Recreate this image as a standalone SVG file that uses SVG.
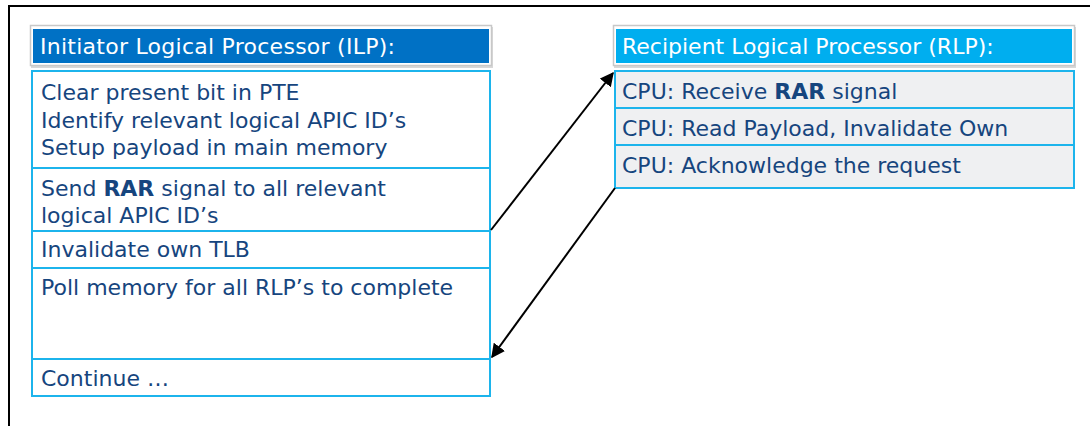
<svg xmlns="http://www.w3.org/2000/svg" width="1090" height="426" viewBox="0 0 1090 426">
<style>
.t{font-family:"DejaVu Sans","Verdana",sans-serif;font-size:22px;fill:#16457E}
.h{font-family:"DejaVu Sans","Verdana",sans-serif;font-size:22px;fill:#ffffff}
.b{font-weight:bold}
.frame{fill:#ffffff;stroke:#C8C8C8;stroke-width:1.5}
.row{fill:#ffffff;stroke:#1CB4EC;stroke-width:2}
.rrow{fill:#EFF0F2;stroke:#1CB4EC;stroke-width:2}
.conn{stroke:#000;stroke-width:2;fill:none;marker-end:url(#ah)}
</style>
<defs>
<marker id="ah" viewBox="0 0 10 10" refX="9" refY="5" markerWidth="7" markerHeight="7" orient="auto-start-reverse" markerUnits="strokeWidth">
<path d="M0,0 L10,5 L0,10 z" fill="#000"/>
</marker>
</defs>
<rect width="1090" height="426" fill="#ffffff"/>
<path d="M9,426 V6 H1090" fill="none" stroke="#000" stroke-width="2"/>

<g id="ilp-header">
<rect x="31" y="27" width="462" height="41" fill="#D8D8D8"/>
<rect class="frame" x="30.5" y="25.5" width="461" height="40"/>
<rect x="33" y="29" width="456" height="34" fill="#0071C5"/>
<text class="h" x="40" y="54" textLength="355" lengthAdjust="spacing">Initiator Logical Processor (ILP):</text>
</g>
<g id="ilp-step1">
<rect class="row" x="32" y="71" width="458" height="97"/>
<text class="t" x="41" y="100">Clear present bit in PTE</text>
<text class="t" x="41" y="128">Identify relevant logical APIC ID’s</text>
<text class="t" x="41" y="155">Setup payload in main memory</text>
</g>
<g id="ilp-step2">
<rect class="row" x="32" y="168" width="458" height="63"/>
<text class="t" x="41" y="196">Send <tspan class="b">RAR</tspan> signal to all relevant</text>
<text class="t" x="41" y="223">logical APIC ID’s</text>
</g>
<g id="ilp-step3">
<rect class="row" x="32" y="231" width="458" height="37"/>
<text class="t" x="41" y="257">Invalidate own TLB</text>
</g>
<g id="ilp-step4">
<rect class="row" x="32" y="268" width="458" height="91"/>
<text class="t" x="41" y="295">Poll memory for all RLP’s to complete</text>
</g>
<g id="ilp-step5">
<rect class="row" x="32" y="359" width="458" height="37"/>
<text class="t" x="41" y="386">Continue …</text>
</g>

<g id="rlp-header">
<rect x="614" y="27" width="462" height="41" fill="#D8D8D8"/>
<rect class="frame" x="613.5" y="25.5" width="461" height="40"/>
<rect x="616" y="29" width="456" height="34" fill="#00AEEF"/>
<text class="h" x="622" y="54">Recipient Logical Processor (RLP):</text>
</g>
<g id="rlp-step1">
<rect class="rrow" x="615" y="71" width="459" height="37"/>
<text class="t" x="622" y="99">CPU: Receive <tspan class="b">RAR</tspan> signal</text>
</g>
<g id="rlp-step2">
<rect class="rrow" x="615" y="108" width="459" height="37"/>
<text class="t" x="622" y="136">CPU: Read Payload, Invalidate Own</text>
</g>
<g id="rlp-step3">
<rect class="rrow" x="615" y="145" width="459" height="43"/>
<text class="t" x="622" y="173">CPU: Acknowledge the request</text>
</g>

<g id="connectors">
<line class="conn" x1="491" y1="230" x2="613" y2="73"/>
<line class="conn" x1="615" y1="188" x2="492" y2="357"/>
</g>
</svg>
